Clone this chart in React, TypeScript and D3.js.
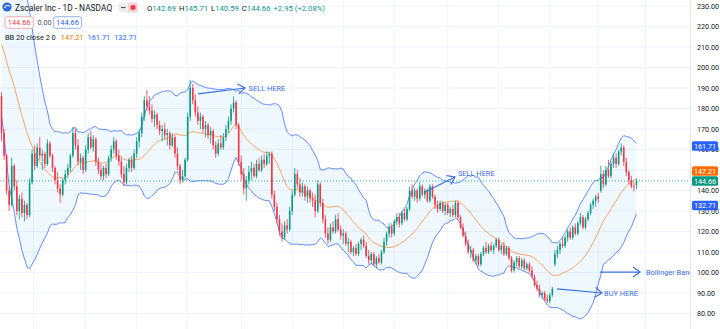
import React from "react";
import * as d3 from "d3";

const W = 720;
const H = 329;
const PLOT_R = 690;
const FONT = "Roboto, 'Noto Sans', Arial, sans-serif";

// closes before the first visible candle (used only by the Bollinger Bands)
const priorCloses = [224, 228, 230, 226, 222, 225, 229, 227, 221, 217, 213, 216, 219, 214, 208, 203, 196, 190, 185, 186];

// visible daily candles: [open, high, low, close]
const candles: [number, number, number, number][] = [
  [186,188,164,168],[168,170,155,157],[157,158,138,140],[140,142,130,133],[133,156,132,152],
  [152,153,140,142],[142,145,128,130],[130,138,126,136],[136,139,127,129],[129,135,125,133],
  [133,134,126,128],[128,146,127,144],[144,160,143,158],[158,162,150,152],[152,163,151,161],
  [161,166,155,157],[157,160,150,158],[158,159,151,153],[153,165,152,163],[163,164,156,157],
  [157,158,149,151],[151,152,143,145],[145,149,139,141],[141,143,134,138],[138,146,137,145],
  [145,150,143,148],[148,153,146,151],[151,158,149,157],[157,171,156,168],[168,170,160,162],
  [162,165,152,154],[154,158,150,156],[156,157,148,150],[150,162,149,160],[160,168,158,166],
  [166,169,160,161],[161,167,159,165],[165,166,152,154],[154,156,148,150],[150,153,145,147],
  [147,152,145,151],[151,153,146,148],[148,157,147,156],[156,162,154,160],[160,166,158,164],
  [164,165,155,157],[157,160,152,154],[154,156,146,148],[148,152,142,144],[144,153,143,151],
  [151,156,149,155],[155,157,149,151],[151,160,150,158],[158,166,156,164],[164,170,161,168],
  [168,178,166,176],[176,186,174,184],[184,189,179,181],[181,186,177,179],[179,182,173,175],
  [175,179,171,177],[177,178,170,172],[172,174,167,169],[169,172,164,170],[170,173,165,167],
  [167,170,162,168],[168,169,160,162],[162,168,161,166],[166,167,156,158],[158,161,150,152],
  [152,153,143,145],[145,150,144,147],[147,156,146,155],[155,178,154,176],[176,194,174,190],
  [190,192,182,184],[184,187,176,178],[178,181,172,174],[174,178,170,176],[176,177,168,170],
  [170,174,166,172],[172,173,165,167],[167,171,163,169],[169,170,160,162],[162,164,156,158],
  [158,165,157,163],[163,167,160,161],[161,168,160,166],[166,172,164,170],[170,176,168,174],
  [174,182,172,180],[180,186,178,183],[183,184,170,172],[172,173,152,154],[154,157,145,148],
  [148,151,138,141],[141,147,135,145],[145,152,143,149],[149,154,145,151],[151,153,146,147],
  [147,155,146,153],[153,156,149,150],[150,157,149,155],[155,158,151,153],[153,159,152,157],
  [157,159,153,158],[158,159,136,138],[138,140,130,132],[132,134,124,126],[126,128,118,120],
  [120,124,115,117],[117,125,116,123],[123,126,119,121],[121,132,120,130],[130,140,128,138],
  [138,151,137,148],[148,150,141,143],[143,146,137,139],[139,144,137,142],[142,143,135,137],
  [137,142,134,140],[140,141,134,136],[136,139,132,135],[135,138,127,130],[130,145,129,143],
  [143,144,132,134],[134,136,124,126],[126,128,117,119],[119,122,114,116],[116,124,115,122],
  [122,125,119,120],[120,128,119,126],[126,129,120,121],[121,123,116,118],[118,121,114,119],
  [119,120,113,114],[114,117,110,115],[115,116,109,110],[110,113,108,112],[112,114,108,109],
  [109,115,108,114],[114,117,111,116],[116,118,112,113],[113,115,107,108],[108,111,104,106],
  [106,110,104,109],[109,110,103,104],[104,108,102,107],[107,109,104,105],[105,111,104,110],
  [110,117,109,115],[115,120,113,119],[119,124,117,122],[122,124,117,119],[119,126,118,125],
  [125,129,123,127],[127,129,122,124],[124,130,123,129],[129,131,125,126],[126,132,125,131],
  [131,142,130,140],[140,143,136,137],[137,141,135,140],[140,141,134,136],[136,144,135,142],
  [142,143,137,138],[138,141,136,140],[140,141,134,135],[135,143,134,142],[142,143,136,137],
  [137,138,131,133],[133,135,129,131],[131,135,130,134],[134,135,129,130],[130,134,128,133],
  [133,134,128,129],[129,132,127,131],[131,133,127,128],[128,135,127,134],[134,135,126,127],
  [127,128,121,122],[122,124,117,118],[118,120,113,114],[114,116,109,110],[110,113,107,111],
  [111,112,105,106],[106,109,104,108],[108,109,103,104],[104,110,103,109],[109,113,108,112],
  [112,115,109,110],[110,114,109,113],[113,115,110,111],[111,114,109,113],[113,117,112,116],
  [116,117,110,111],[111,114,109,113],[113,115,108,109],[109,113,108,112],[112,113,106,107],
  [107,108,100,101],[101,106,100,105],[105,108,103,107],[107,108,102,103],[103,107,102,106],
  [106,107,101,102],[102,105,101,104],[104,105,100,101],[101,103,97,98],[98,99,93,94],
  [94,96,91,92],[92,94,88,89],[89,91,87,90],[90,91,86,87],[87,89,85,86],
  [86,90,85,89],[89,93,88,92],[104,111,103,109],[109,113,107,111],[111,115,109,114],
  [114,117,112,113],[113,118,112,117],[117,121,115,120],[120,122,116,117],[117,123,116,122],
  [122,124,118,119],[119,125,118,124],[124,129,123,127],[127,128,121,122],[122,127,121,126],
  [126,130,125,129],[129,134,128,133],[133,136,131,135],[135,138,132,137],[137,139,134,136],
  [140,152,139,148],[148,150,141,143],[143,152,142,150],[150,155,146,147],[147,154,146,153],
  [153,158,151,156],[156,158,151,153],[153,160,152,159],[159,163,157,161],[161,162,152,154],
  [154,156,147,149],[149,150,143,145],[145,147,141,142],[142,144,139.5,141.71],[142.69,145.71,140.59,144.66],
];

const priceTicks = [80, 90, 100, 110, 120, 130, 140, 150, 160, 170, 180, 190, 200, 210, 220, 230];
// month boundaries, in candle index units
const monthTicks = [12.5, 32.7, 53, 73, 94, 114, 134, 154, 175, 195, 215, 234, 252.5];

const title = "Zscaler Inc - 1D - NASDAQ";
const ohlcLabels = ["O", "H", "L", "C"];
const ohlcValues = ["142.69", "145.71", "140.59", "144.66"];
const changeText = "+2.95 (+2.08%)";
const lastPrice = 144.66;
const bbTitle = "BB 20 close 2 0";
const bbBasis = 147.21;
const bbUpper = 161.71;
const bbLower = 132.71;

// drawings, anchored in (candle index, price)
const arrows = [
  { from: [77.1, 187.1], to: [95.5, 190.0], label: "SELL HERE", at: [96.9, 188.6] },
  { from: [166.1, 139.3], to: [177.8, 146.6], label: "SELL HERE", at: [179.0, 147.0] },
  { from: [217.8, 92.0], to: [235.5, 90.0], label: "BUY HERE", at: [236.3, 88.6] },
  { from: [234.7, 100.2], to: [250.4, 100.2], label: "Bollinger Band", at: [252.7, 98.8] },
];

const UP = "#089981";
const DOWN = "#f23645";
const BLUE = "#2962ff";
const ORANGE = "#ff6d00";

export default function App() {
  const x = d3.scaleLinear().domain([0, candles.length - 1]).range([1.5, 636.5]);
  const y = d3.scaleLinear().domain([80, 230]).range([313.5, 6]);
  const fmt = d3.format(".2f");

  const closes = [...priorCloses, ...candles.map((c) => c[3])];
  const P = priorCloses.length;
  const bb = candles.map((_, i) => {
    const win = closes.slice(i + P - 19, i + P + 1);
    const m = d3.mean(win) as number;
    const sd = Math.sqrt(d3.mean(win.map((v) => (v - m) * (v - m))) as number);
    return { i, m, u: m + 2 * sd, l: m - 2 * sd };
  });

  const area = d3
    .area<{ i: number; m: number; u: number; l: number }>()
    .x((d) => x(d.i))
    .y0((d) => y(d.l))
    .y1((d) => y(d.u));
  const lineU = d3.line<{ i: number; u: number }>().x((d) => x(d.i)).y((d) => y(d.u));
  const lineL = d3.line<{ i: number; l: number }>().x((d) => x(d.i)).y((d) => y(d.l));
  const lineM = d3.line<{ i: number; m: number }>().x((d) => x(d.i)).y((d) => y(d.m));

  const step = x(1) - x(0);
  const bw = Math.max(1, step * 0.62);

  // price labels on the axis
  const boxH = 9.5;
  const boxes = [
    { v: bbUpper, color: BLUE, fixed: false },
    { v: bbBasis, color: ORANGE, fixed: false },
    { v: lastPrice, color: UP, fixed: true },
    { v: bbLower, color: BLUE, fixed: false },
  ].map((b) => ({ ...b, cy: y(b.v) }));
  const fixedBox = boxes.find((b) => b.fixed)!;
  boxes.forEach((b) => {
    if (b.fixed) return;
    const d = b.cy - fixedBox.cy;
    if (Math.abs(d) < boxH + 0.5) b.cy = fixedBox.cy + Math.sign(d || -1) * (boxH + 0.5);
  });
  // the axis hides a tick label that sits right under a price label
  const shownTicks = priceTicks.filter((t) => boxes.every((b) => Math.abs(y(t) - b.cy) > 3));

  const annColor = "#3a6fe0";

  return (
    <svg
      width={W}
      height={H}
      viewBox={`0 0 ${W} ${H}`}
      style={{ position: "fixed", left: 0, top: 0, background: "#ffffff", fontFamily: FONT }}
    >
      <defs>
        <clipPath id="plot">
          <rect x={0} y={0} width={PLOT_R} height={H} />
        </clipPath>
      </defs>
      <rect x={0} y={0} width={W} height={H} fill="#ffffff" />
      <g clipPath="url(#plot)">
        {priceTicks.map((t) => (
          <line key={"h" + t} x1={0} x2={PLOT_R} y1={y(t)} y2={y(t)} stroke="#f0f3fa" strokeWidth={1} />
        ))}
        {monthTicks.map((t) => (
          <line key={"v" + t} x1={x(t)} x2={x(t)} y1={0} y2={H} stroke="#f0f3fa" strokeWidth={1} />
        ))}
        <path d={area(bb) || ""} fill="rgba(33,150,243,0.07)" />
        <path d={lineU(bb) || ""} fill="none" stroke={BLUE} strokeOpacity={0.72} strokeWidth={1} />
        <path d={lineL(bb) || ""} fill="none" stroke={BLUE} strokeOpacity={0.72} strokeWidth={1} />
        <path d={lineM(bb) || ""} fill="none" stroke={ORANGE} strokeOpacity={0.6} strokeWidth={1} />
        <line
          x1={0}
          x2={PLOT_R}
          y1={y(lastPrice)}
          y2={y(lastPrice)}
          stroke={UP}
          strokeWidth={1}
          strokeDasharray="1 2"
          opacity={0.8}
        />
        {candles.map((c, i) => {
          const [o, h, l, cl] = c;
          const col = cl >= o ? UP : DOWN;
          const cx = x(i);
          const top = y(Math.max(o, cl));
          const bh = Math.max(0.8, Math.abs(y(o) - y(cl)));
          return (
            <g key={i}>
              <line x1={cx} x2={cx} y1={y(h)} y2={y(l)} stroke={col} strokeWidth={0.8} />
              <rect x={cx - bw / 2} y={top} width={bw} height={bh} fill={col} />
            </g>
          );
        })}
        {arrows.map((a, k) => {
          const x1 = x(a.from[0]);
          const y1 = y(a.from[1]);
          const x2 = x(a.to[0]);
          const y2 = y(a.to[1]);
          const len = Math.hypot(x2 - x1, y2 - y1);
          const ux = (x2 - x1) / len;
          const uy = (y2 - y1) / len;
          const hx = x2 - ux * 7;
          const hy = y2 - uy * 7;
          const p1 = [hx - uy * 5, hy + ux * 5];
          const p2 = [hx + uy * 5, hy - ux * 5];
          return (
            <g key={"a" + k}>
              <line x1={x1} y1={y1} x2={x2} y2={y2} stroke={annColor} strokeWidth={1.2} />
              <polyline
                points={`${p1[0]},${p1[1]} ${x2},${y2} ${p2[0]},${p2[1]}`}
                fill="none"
                stroke={annColor}
                strokeWidth={1.2}
              />
              <text x={x(a.at[0])} y={y(a.at[1])} fontSize={7.4} fill={annColor}>
                {a.label}
              </text>
            </g>
          );
        })}
      </g>

      {/* price axis */}
      <line x1={PLOT_R + 0.5} x2={PLOT_R + 0.5} y1={0} y2={H} stroke="#e0e3eb" strokeWidth={1} />
      {shownTicks.map((t) => (
        <text key={"t" + t} x={697} y={y(t) + 2.6} fontSize={7.2} fill="#131722">
          {fmt(t)}
        </text>
      ))}
      {boxes.map((b, k) => (
        <g key={"b" + k}>
          <rect x={692} y={b.cy - boxH / 2} width={26} height={boxH} rx={1.5} fill={b.color} />
          <text x={705} y={b.cy + 2.6} fontSize={7.2} fill="#ffffff" textAnchor="middle">
            {fmt(b.v)}
          </text>
        </g>
      ))}

      {/* header */}
      <circle cx={7} cy={7} r={4.6} fill="#2b6cd8" />
      <path d="M4.6,8.2 C5.5,5.2 8.6,4.8 9.6,6.4" fill="none" stroke="#ffffff" strokeWidth={1.1} />
      <text x={15} y={10.5} fontSize={8.4} fill="#131722">
        {title}
      </text>
      <rect x={118} y={2.5} width={20} height={10} rx={3} fill="#eceef2" />
      <line x1={121} x2={125.5} y1={7.5} y2={7.5} stroke="#50535e" strokeWidth={1.2} />
      <rect x={128} y={2.5} width={10} height={10} rx={2} fill="#fbd5d8" />
      <rect x={130.6} y={5.2} width={4.8} height={4.6} rx={0.8} fill="#f23645" />
      <text x={147} y={10.5} fontSize={7.7}>
        {ohlcLabels.map((lab, k) => (
          <tspan key={lab}>
            <tspan fill="#131722" dx={k === 0 ? 0 : 3}>{lab}</tspan>
            <tspan fill={UP}>{ohlcValues[k]}</tspan>
          </tspan>
        ))}
        <tspan fill={UP} dx={3}>{changeText}</tspan>
      </text>

      <rect x={5} y={16.7} width={28.3} height={11.6} rx={2.5} fill="#ffffff" stroke="#f7a1a8" strokeWidth={0.9} />
      <text x={19.15} y={25.2} fontSize={7.4} fill={DOWN} textAnchor="middle">
        {fmt(lastPrice)}
      </text>
      <text x={37.5} y={25.2} fontSize={7.2} fill="#50535e">
        0.00
      </text>
      <rect x={53.3} y={16.7} width={28.3} height={11.6} rx={2.5} fill="#ffffff" stroke="#8aa8f5" strokeWidth={0.9} />
      <text x={67.45} y={25.2} fontSize={7.4} fill={BLUE} textAnchor="middle">
        {fmt(lastPrice)}
      </text>

      <text x={5} y={39.8} fontSize={7.4} fill="#131722">
        {bbTitle}
        <tspan dx={5} fill={ORANGE}>{fmt(bbBasis)}</tspan>
        <tspan dx={4} fill={BLUE}>{fmt(bbUpper)}</tspan>
        <tspan dx={4} fill={BLUE}>{fmt(bbLower)}</tspan>
      </text>
    </svg>
  );
}
